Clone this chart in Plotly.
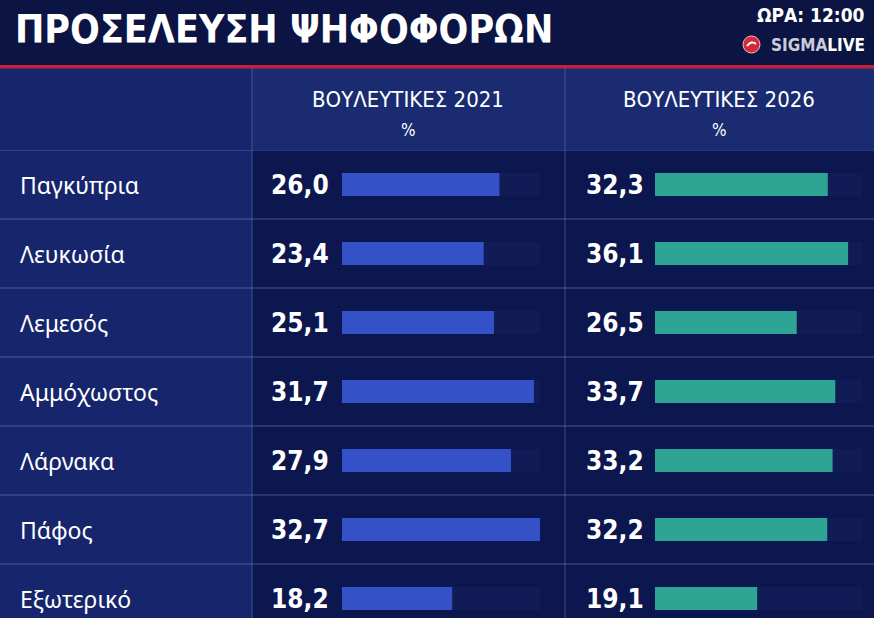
import plotly.graph_objects as go

# Turnout by district (%), two elections
districts = ["Παγκύπρια", "Λευκωσία", "Λεμεσός", "Αμμόχωστος", "Λάρνακα", "Πάφος", "Εξωτερικό"]
turnout_2021 = [26.0, 23.4, 25.1, 31.7, 27.9, 32.7, 18.2]
turnout_2026 = [32.3, 36.1, 26.5, 33.7, 33.2, 32.2, 19.1]
col_titles = ["ΒΟΥΛΕΥΤΙΚΕΣ 2021", "ΒΟΥΛΕΥΤΙΚΕΣ 2026"]
unit_label = "%"
title_text = "ΠΡΟΣΕΛΕΥΣΗ ΨΗΦΟΦΟΡΩΝ"
time_text = "ΩΡΑ: 12:00"

W, H = 874, 618
n = len(districts)

# full length of the dark track behind each bar = axis max
track_max_2021 = 32.7
track_max_2026 = 38.7


def px(x):
    return x / W


def py(y):
    return 1 - y / H


NARROW = "Liberation Sans Narrow, DejaVu Sans Condensed, Roboto, sans-serif"
LABEL_FONT = "Noto Sans, Open Sans, sans-serif"

fig = go.Figure()

bar_w = 0.33
for vals, tmax, color, xa in [
    (turnout_2021, track_max_2021, "#3451c8", "x"),
    (turnout_2026, track_max_2026, "#2ea494", "x2"),
]:
    ya = "y" if xa == "x" else "y2"
    fig.add_trace(go.Bar(x=[tmax] * n, y=districts, orientation="h", width=bar_w,
                         marker=dict(color="#111b55", line_width=0),
                         xaxis=xa, yaxis=ya, hoverinfo="skip", showlegend=False))
    fig.add_trace(go.Bar(x=vals, y=districts, orientation="h", width=bar_w,
                         marker=dict(color=color, line_width=0),
                         xaxis=xa, yaxis=ya, showlegend=False))

y_top, row_h = 150, 69
y_range = [-0.5 + (H - y_top) / row_h, -0.5]
y_dom = [0, py(y_top)]

fig.update_layout(
    width=W, height=H,
    margin=dict(l=0, r=0, t=0, b=0),
    paper_bgcolor="#0c1750",
    plot_bgcolor="rgba(0,0,0,0)",
    barmode="overlay",
    xaxis=dict(domain=[px(342), px(540)], range=[0, track_max_2021], visible=False, fixedrange=True),
    xaxis2=dict(domain=[px(655), px(862)], range=[0, track_max_2026], visible=False, fixedrange=True),
    yaxis=dict(domain=y_dom, range=y_range, type="category", categoryarray=districts,
               visible=False, anchor="x"),
    yaxis2=dict(domain=y_dom, range=y_range, type="category", categoryarray=districts,
                visible=False, anchor="x2", matches="y"),
)

shapes = []
# background blocks
shapes.append(dict(type="rect", xref="paper", yref="paper", x0=0, x1=1, y0=py(65), y1=1,
                   fillcolor="#0b1442", line_width=0, layer="below"))
shapes.append(dict(type="rect", xref="paper", yref="paper", x0=0, x1=px(252), y0=0, y1=py(68),
                   fillcolor="#16256c", line_width=0, layer="below"))
shapes.append(dict(type="rect", xref="paper", yref="paper", x0=px(252), x1=1, y0=py(150), y1=py(68),
                   fillcolor="#1a2b72", line_width=0, layer="below"))
# red rule under the title
shapes.append(dict(type="rect", xref="paper", yref="paper", x0=0, x1=1, y0=py(68.5), y1=py(65),
                   fillcolor="#c41f3b", line_width=0, layer="below"))
# row separators, between categories
for i in range(n):
    shapes.append(dict(type="line", xref="paper", yref="y", x0=0, x1=1, y0=i - 0.5, y1=i - 0.5,
                       line=dict(color="rgba(120,140,210,0.55)", width=1), layer="below"))
# column separators
for xv in (252, 565):
    shapes.append(dict(type="line", xref="paper", yref="paper", x0=px(xv), x1=px(xv), y0=0, y1=py(68),
                       line=dict(color="rgba(120,140,210,0.45)", width=1), layer="below"))
# logo mark
shapes.append(dict(type="circle", xref="paper", yref="paper", x0=px(743), x1=px(760), y0=py(53), y1=py(36),
                   fillcolor="#d42a3c", line=dict(color="#f0c0c8", width=1)))
shapes.append(dict(type="path", xref="paper", yref="paper",
                   path=f"M {px(747)},{py(46)} Q {px(751.5)},{py(40)} {px(756)},{py(44)}",
                   line=dict(color="white", width=2)))
fig.update_layout(shapes=shapes)

ann = []
ann.append(dict(text=f"<b>{title_text}</b>", x=px(13), y=py(29), xref="paper", yref="paper",
                xanchor="left", yanchor="middle", showarrow=False,
                font=dict(family=NARROW, size=39, color="white")))
ann.append(dict(text=f"<b>{time_text}</b>", x=px(867), y=py(15), xref="paper", yref="paper",
                xanchor="right", yanchor="middle", showarrow=False,
                font=dict(family=NARROW, size=19, color="white")))
ann.append(dict(text="<span style='color:#c9cdd9'>SIGMA</span>LIVE", x=px(867), y=py(45),
                xref="paper", yref="paper", xanchor="right", yanchor="middle", showarrow=False,
                font=dict(family=NARROW, size=17, color="white", weight="bold")))
for cx, t in zip((408, 719), col_titles):
    ann.append(dict(text=t, x=px(cx), y=py(100), xref="paper", yref="paper",
                    xanchor="center", yanchor="middle", showarrow=False,
                    font=dict(family=NARROW, size=22, color="white")))
    ann.append(dict(text=unit_label, x=px(cx), y=py(130), xref="paper", yref="paper",
                    xanchor="center", yanchor="middle", showarrow=False,
                    font=dict(family=NARROW, size=17, color="white")))
for d, v1, v2 in zip(districts, turnout_2021, turnout_2026):
    ann.append(dict(text=d, x=px(18), y=d, xref="paper", yref="y", xanchor="left", yanchor="middle",
                    showarrow=False, font=dict(family=LABEL_FONT, size=23, color="white")))
    for xr, v, ya in ((331, v1, "y"), (646, v2, "y2")):
        ann.append(dict(text=f"<b>{v:.1f}</b>".replace(".", ","), x=px(xr), y=d, xref="paper", yref=ya,
                        xanchor="right", yanchor="middle", showarrow=False,
                        font=dict(family=NARROW, size=26, color="white")))
fig.update_layout(annotations=ann)

fig.write_html("out.html", config={"displayModeBar": False},
               post_script="document.body.style.margin='0';document.body.style.overflow='hidden';")
